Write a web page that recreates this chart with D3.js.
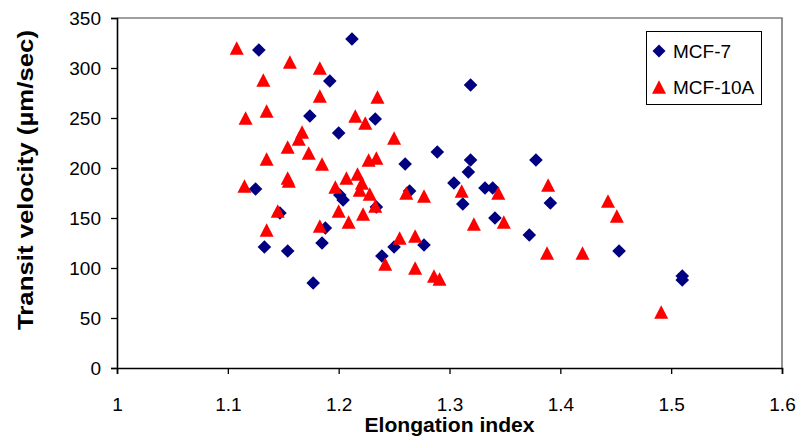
<!DOCTYPE html>
<html><head><meta charset="utf-8">
<script src="https://cdn.jsdelivr.net/npm/d3@7"></script>
<style>body{margin:0;background:#fff}svg{display:block}text{font-family:"Liberation Sans",Arial,sans-serif}</style>
</head><body>
<svg id="c" width="798" height="436"></svg>
<script>
const mcf7X = [1.128,1.212,1.192,1.174,1.200,1.233,1.319,1.125,1.201,1.204,1.147,1.133,1.154,1.188,1.185,1.177,1.234,1.264,1.260,1.289,1.319,1.317,1.304,1.312,1.332,1.339,1.341,1.378,1.391,1.372,1.239,1.250,1.277,1.453,1.510,1.510];
const mcf7Y = [318,329,287,252,235,249,283,179,173,168,155,121,117,140,125,85,161,177,204,216,208,196,185,164,180,180,150,208,165,133,112,121,123,117,92,88];
const mcf10aX = [1.108,1.156,1.183,1.132,1.183,1.235,1.135,1.116,1.215,1.224,1.167,1.164,1.250,1.154,1.173,1.135,1.185,1.227,1.234,1.154,1.155,1.115,1.197,1.207,1.217,1.221,1.219,1.228,1.233,1.145,1.135,1.183,1.200,1.209,1.222,1.261,1.277,1.311,1.344,1.389,1.322,1.349,1.255,1.269,1.242,1.269,1.286,1.291,1.388,1.420,1.443,1.451,1.491];
const mcf10aY = [320,306,300,288,272,271,257,250,252,245,236,229,230,221,215,209,204,208,210,190,187,182,181,190,194,185,178,174,162,157,138,142,157,146,154,175,172,177,175,183,144,146,130,132,104,100,92,89,115,115,167,152,56];
const xTicks = [1,1.1,1.2,1.3,1.4,1.5,1.6];
const yTicks = [0,50,100,150,200,250,300,350];
const seriesNames = ["MCF-7","MCF-10A"];
const colors = ["#000080","#FF0000"];
const xTitle = "Elongation index";
const yTitle = "Transit velocity (µm/sec)";

const svg = d3.select("#c");
const m = {l:117, r:16, t:18, b:68};
const W = 798, H = 436;
const x = d3.scaleLinear().domain([1,1.6]).range([m.l, W-m.r]);
const y = d3.scaleLinear().domain([0,350]).range([H-m.b, m.t]);

svg.append("path").attr("d",`M${m.l},${m.t}H${W-m.r}V${H-m.b}`).attr("fill","none").attr("stroke","#808080").attr("stroke-width",1.7);

const xAxis = svg.append("g").attr("transform",`translate(0,${H-m.b})`)
  .call(d3.axisBottom(x).tickValues(xTicks).tickFormat(d=>d3.format("")(d)).tickSize(6));
const yAxis = svg.append("g").attr("transform",`translate(${m.l},0)`)
  .call(d3.axisLeft(y).tickValues(yTicks).tickSize(6).tickPadding(10));
[xAxis,yAxis].forEach(g=>{
  g.select(".domain").attr("stroke","#000").attr("stroke-width",1.6);
  g.selectAll(".tick line").attr("stroke","#000").attr("stroke-width",1.3);
  g.selectAll(".tick text").attr("font-size",19).attr("fill","#000").attr("font-family","Liberation Sans, Arial, sans-serif");
});
xAxis.selectAll(".tick text").attr("dy","0.35em").attr("y",36);

const diamond = (cx,cy,s)=>`M${cx},${cy-s}L${cx+s},${cy}L${cx},${cy+s}L${cx-s},${cy}Z`;
const tri = (cx,cy,w,h)=>`M${cx},${cy-h/2}L${cx+w/2},${cy+h/2}L${cx-w/2},${cy+h/2}Z`;

const d7 = mcf7X.map((v,i)=>({x:v,y:mcf7Y[i]}));
const d10 = mcf10aX.map((v,i)=>({x:v,y:mcf10aY[i]}));

svg.append("g").selectAll("path").data(d7).join("path")
  .attr("d",d=>diamond(x(d.x),y(d.y),6.8)).attr("fill",colors[0]);
svg.append("g").selectAll("path").data(d10).join("path")
  .attr("d",d=>tri(x(d.x),y(d.y),14,13.5)).attr("fill",colors[1]);

svg.append("text").attr("x",(m.l+W-m.r)/2).attr("y",432).attr("text-anchor","middle")
  .attr("font-size",21).attr("font-weight","bold").attr("textLength",170).attr("lengthAdjust","spacingAndGlyphs").text(xTitle);
svg.append("text").attr("transform","translate(33,180) rotate(-90)").attr("text-anchor","middle")
  .attr("font-size",22).attr("font-weight","bold").attr("textLength",300).attr("lengthAdjust","spacingAndGlyphs").text(yTitle);

const lg = svg.append("g");
lg.append("rect").attr("x",646.5).attr("y",31.5).attr("width",115).attr("height",73).attr("fill","#fff").attr("stroke","#000").attr("stroke-width",1);
lg.append("path").attr("d",diamond(659,51,6.5)).attr("fill",colors[0]);
lg.append("path").attr("d",tri(659,87,14,13.5)).attr("fill",colors[1]);
lg.append("text").attr("x",673).attr("y",51).attr("dy","0.36em").attr("font-size",19).text(seriesNames[0]);
lg.append("text").attr("x",673).attr("y",87).attr("dy","0.36em").attr("font-size",19).text(seriesNames[1]);
</script>
</body></html>
